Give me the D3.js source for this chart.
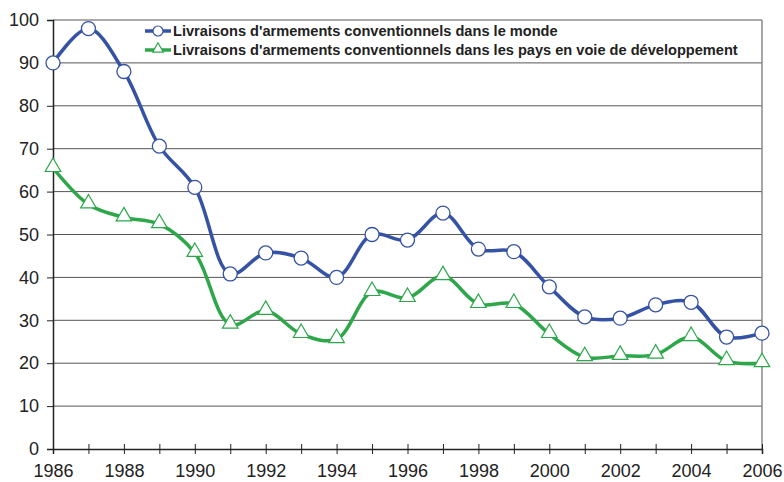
<!DOCTYPE html>
<html><head><meta charset="utf-8">
<script src="https://cdn.jsdelivr.net/npm/d3@7"></script>
<style>body{margin:0;background:#fff}svg{display:block}text{font-family:"Liberation Sans",Arial,sans-serif}</style>
</head><body>
<script>
const years = d3.range(1986, 2007);
const worldValues = [90,98,88,70.6,61,40.8,45.7,44.5,40,50,48.7,55,46.6,46,37.8,30.8,30.5,33.6,34.2,26.1,27];
const developingValues = [65.5,57,54,52.4,45.7,29,32.2,26.8,25.6,36.6,35.2,40.3,33.8,33.8,26.8,21.4,21.7,22,26.1,20.5,20];
const yTicks = [0,10,20,30,40,50,60,70,80,90,100];
const xTickLabels = [1986,1988,1990,1992,1994,1996,1998,2000,2002,2004,2006];
const seriesNames = ["Livraisons d'armements conventionnels dans le monde","Livraisons d'armements conventionnels dans les pays en voie de développement"];

const W=784,H=482;
const svg=d3.select("body").append("svg").attr("width",W).attr("height",H).attr("font-family","'Liberation Sans', Arial, sans-serif");
const x=d3.scaleLinear().domain([1986,2006]).range([53,762]);
const y=d3.scaleLinear().domain([0,100]).range([449,20]);
const blue="#3552A4", green="#2DA74A";

// gridlines
svg.append("g").selectAll("line").data(yTicks.filter(d=>d>0)).join("line")
 .attr("x1",x(1986)).attr("x2",x(2006)).attr("y1",d=>y(d)).attr("y2",d=>y(d))
 .attr("stroke","#555").attr("stroke-width",1);
// right border
svg.append("line").attr("x1",x(2006)).attr("x2",x(2006)).attr("y1",y(100)).attr("y2",y(0)).attr("stroke","#888").attr("stroke-width",1.5);

// y axis
const ya=svg.append("g").attr("transform",`translate(${x(1986)},0)`)
 .call(d3.axisLeft(y).tickValues(yTicks).tickSize(6).tickPadding(8));
ya.attr("font-family",null);
ya.select(".domain").attr("stroke","#222").attr("stroke-width",1.5);
ya.selectAll(".tick line").attr("stroke","#222");
ya.selectAll("text").attr("font-size",18).attr("fill","#222");

// x axis
const xa=svg.append("g").attr("transform",`translate(0,${y(0)})`)
 .call(d3.axisBottom(x).tickValues(years).tickSize(5).tickPadding(10).tickFormat(d=>xTickLabels.includes(d)?d:""));
xa.attr("font-family",null);
xa.select(".domain").attr("stroke","#222").attr("stroke-width",1.5);
xa.selectAll(".tick line").attr("stroke","#222").attr("y1",-5);
xa.selectAll("text").attr("font-size",18).attr("fill","#222");

const line=d3.line().x((d,i)=>x(years[i])).y(d=>y(d)).curve(d3.curveCatmullRom.alpha(0.5));
svg.append("path").attr("d",line(developingValues)).attr("fill","none").attr("stroke",green).attr("stroke-width",3.5);
svg.append("path").attr("d",line(worldValues)).attr("fill","none").attr("stroke",blue).attr("stroke-width",3.5);

const tri=d3.symbol().type(d3.symbolTriangle).size(105);
svg.append("g").selectAll("path").data(developingValues).join("path")
 .attr("d",tri).attr("transform",(d,i)=>`translate(${x(years[i])},${y(d)-1})`)
 .attr("fill","#fff").attr("stroke",green).attr("stroke-width",1.2);
svg.append("g").selectAll("circle").data(worldValues).join("circle")
 .attr("cx",(d,i)=>x(years[i])).attr("cy",d=>y(d)).attr("r",7)
 .attr("fill","#fff").attr("stroke",blue).attr("stroke-width",1.3);

// legend
const lg=svg.append("g");
[[blue,"c"],[green,"t"]].forEach(([c,t],i)=>{
 const ly=31+i*19;
 lg.append("line").attr("x1",145).attr("x2",171).attr("y1",ly).attr("y2",ly).attr("stroke",c).attr("stroke-width",3.5);
 if(t==="c") lg.append("circle").attr("cx",158).attr("cy",ly).attr("r",5).attr("fill","#fff").attr("stroke",c).attr("stroke-width",1.2);
 else lg.append("path").attr("d",d3.symbol().type(d3.symbolTriangle).size(50)).attr("transform",`translate(158,${ly-1})`).attr("fill","#fff").attr("stroke",c).attr("stroke-width",1.2);
 lg.append("text").attr("x",173).attr("y",ly+5).attr("font-size",14.6).attr("font-weight","bold").attr("fill","#222").text(seriesNames[i]);
});
</script>
</body></html>
